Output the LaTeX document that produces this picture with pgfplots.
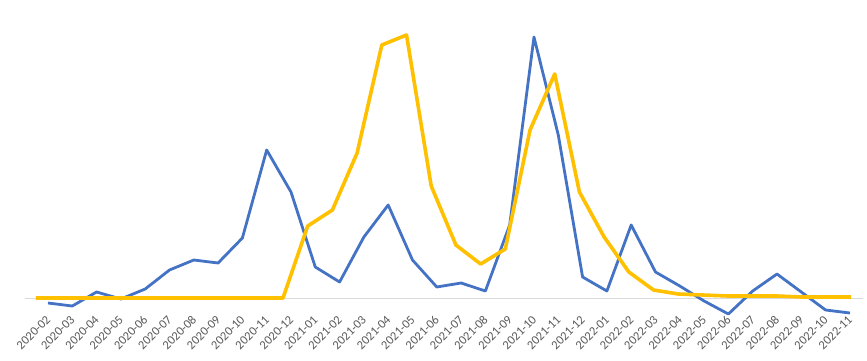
\documentclass[border=0pt]{standalone}
\usepackage{pgfplots}
\pgfplotsset{compat=1.18}
\usepackage{fontspec}
\setmainfont{Carlito}
\definecolor{xlblue}{HTML}{4472C4}
\definecolor{xlyellow}{HTML}{FFC000}
\definecolor{xlgrid}{HTML}{D9D9D9}
\definecolor{xltext}{HTML}{595959}
\begin{document}
\begin{tikzpicture}[x=1pt,y=1pt]
\begin{axis}[
  at={(25pt,42pt)}, anchor=south west,
  scale only axis, width=838pt, height=318pt,
  xmin=-0.946, xmax=33.54, ymin=-20, ymax=298,
  axis line style={draw=none}, tick style={draw=none},
  ytick=\empty,
  extra y ticks={0}, extra y tick labels={},
  extra y tick style={grid=major, major grid style={xlgrid, line width=0.8pt}},
  xtick={0,...,33},
  xticklabels={2020-02,2020-03,2020-04,2020-05,2020-06,2020-07,2020-08,2020-09,2020-10,2020-11,2020-12,2021-01,2021-02,2021-03,2021-04,2021-05,2021-06,2021-07,2021-08,2021-09,2021-10,2021-11,2021-12,2022-01,2022-02,2022-03,2022-04,2022-05,2022-06,2022-07,2022-08,2022-09,2022-10,2022-11},
  xticklabel style={rotate=45, anchor=east, xshift=3pt, inner sep=2.5pt, font=\fontsize{12.5}{14}\selectfont, text=xltext},
  clip=false,
]
\addplot[xlblue, line width=2.8pt, line join=round] coordinates {
(0,-5) (1,-8) (2,6) (3,-1) (4,9) (5,28) (6,38) (7,35) (8,60) (9,148)
(10,106) (11,31) (12,16) (13,61) (14,93) (15,38) (16,11) (17,15) (18,7) (19,73)
(20,261) (21,163) (22,21) (23,7) (24,73) (25,26) (26,12) (27,-3) (28,-16) (29,7)
(30,24) (31,6) (32,-12) (33,-15)
};
\end{axis}
\begin{axis}[
  at={(25pt,42pt)}, anchor=south west,
  scale only axis, width=838pt, height=318pt,
  xmin=-0.445, xmax=33.48, ymin=-20, ymax=298,
  hide axis, clip=false,
]
\addplot[xlyellow, line width=3.6pt, line join=round] coordinates {
(0,0) (1,0) (2,0) (3,0) (4,0) (5,0) (6,0) (7,0) (8,0) (9,0)
(10,0) (11,72) (12,88) (13,145) (14,253) (15,263) (16,112) (17,53) (18,34) (19,49)
(20,168) (21,224) (22,106) (23,61) (24,26) (25,8) (26,4) (27,3) (28,2) (29,2)
(30,2) (31,1) (32,1) (33,1)
};
\end{axis}
\pgfresetboundingbox
\path[use as bounding box] (0,0) rectangle (867pt,360pt);
\end{tikzpicture}
\end{document}
